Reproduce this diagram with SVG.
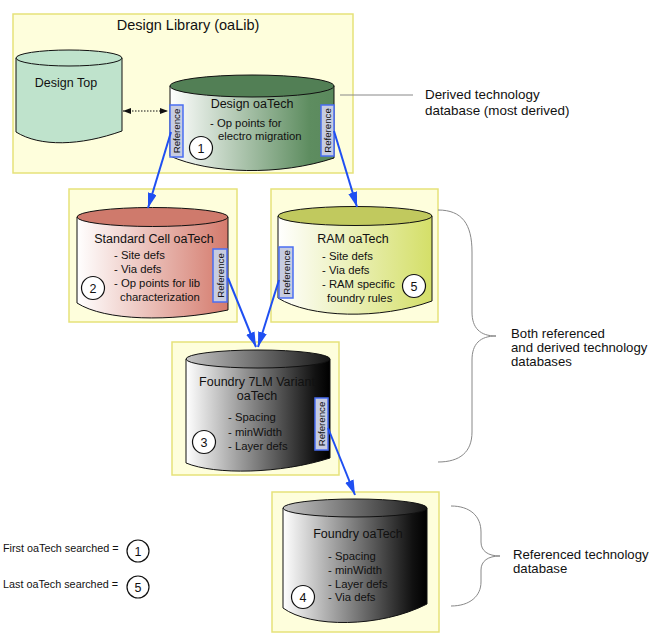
<svg xmlns="http://www.w3.org/2000/svg" width="663" height="639" viewBox="0 0 663 639">
<defs>
<style>
text{font-family:"Liberation Sans",Arial,sans-serif;fill:#111}
.ttl{font-size:12.5px;text-anchor:middle}
.itm{font-size:11.3px}
.big{font-size:14.5px;text-anchor:middle}
.note{font-size:13.4px}
.note2{font-size:13.2px}
.leg{font-size:10.8px}
.num{font-size:12.5px;text-anchor:middle}
.ref{font-size:9.7px;text-anchor:middle}
.box{fill:#fefedc;stroke:#e6e27a;stroke-width:1.5}
.cyl{stroke:#111;stroke-width:1}
.refbox{fill:#c7cce0;stroke:#4a6ef2;stroke-width:1.5}
.circ{fill:#fff;stroke:#111;stroke-width:1.2}
.blue{stroke:#1f4ff2;stroke-width:2;fill:none;marker-end:url(#ah)}
.gray{stroke:#888;stroke-width:1;fill:none}
</style>
<marker id="ah" markerUnits="userSpaceOnUse" markerWidth="16" markerHeight="10" refX="15" refY="4.5" orient="auto">
<path d="M0,0 L15,4.5 L0,9 Z" fill="#1f4ff2"/>
</marker>
<marker id="bk" markerUnits="userSpaceOnUse" markerWidth="8" markerHeight="6" refX="8" refY="3" orient="auto-start-reverse">
<path d="M0,0 L8,3 L0,6 Z" fill="#111"/>
</marker>
<linearGradient id="gGreen" x1="0" x2="1" y1="0" y2="0"><stop offset="0" stop-color="#ffffff"/><stop offset="0.85" stop-color="#5e8d60"/><stop offset="1" stop-color="#5a895c"/></linearGradient>
<linearGradient id="gRed" x1="0" x2="1" y1="0" y2="0"><stop offset="0" stop-color="#ffffff"/><stop offset="1" stop-color="#d47a6c"/></linearGradient>
<linearGradient id="gYel" x1="0" x2="1" y1="0" y2="0"><stop offset="0" stop-color="#ffffff"/><stop offset="1" stop-color="#d4df68"/></linearGradient>
<linearGradient id="gBlk" x1="0" x2="1" y1="0" y2="0"><stop offset="0" stop-color="#ffffff"/><stop offset="0.9" stop-color="#111"/><stop offset="1" stop-color="#000"/></linearGradient>
<linearGradient id="gBlkTop" x1="0" x2="1" y1="0" y2="0"><stop offset="0" stop-color="#c4c4c4"/><stop offset="1" stop-color="#151515"/></linearGradient>
</defs>

<g id="design-library">
<rect class="box" x="13" y="14" width="340" height="159"/>
<text class="big" x="188" y="30">Design Library (oaLib)</text>
</g>

<g id="design-top">
<path class="cyl" fill="#bfe3cc" d="M16,58 V132 C40,147 80,146 122,131 V58 Z"/>
<ellipse class="cyl" fill="#bfe3cc" cx="69" cy="58" rx="53" ry="8"/>
<text class="ttl" x="66" y="87">Design Top</text>
</g>

<g id="design-oatech">
<path class="cyl" fill="url(#gGreen)" d="M170,86 V156 C210,174 280,176 334,158 V86 Z"/>
<ellipse class="cyl" fill="#527f55" cx="252" cy="86" rx="82" ry="11"/>
<text class="ttl" x="252" y="108">Design oaTech</text>
<text class="itm" x="210" y="127">- Op points for</text>
<text class="itm" x="218" y="140">electro migration</text>
<circle class="circ" cx="201" cy="148" r="11.5"/>
<text class="num" x="201" y="152.5">1</text>
<rect class="refbox" x="170" y="105" width="13" height="52"/>
<text class="ref" transform="translate(180,131) rotate(-90)">Reference</text>
<rect class="refbox" x="321" y="105" width="13" height="51"/>
<text class="ref" transform="translate(331,130.5) rotate(-90)">Reference</text>
</g>

<g id="standard-cell">
<rect class="box" x="69" y="189" width="168" height="133"/>
<path class="cyl" fill="url(#gRed)" d="M77,217 V303 C105,321 170,322 228,310 V217 Z"/>
<ellipse class="cyl" fill="#cf7a6c" cx="152.5" cy="217" rx="75.5" ry="9.5"/>
<text class="ttl" x="154" y="243">Standard Cell oaTech</text>
<text class="itm" x="114" y="259">- Site defs</text>
<text class="itm" x="114" y="273">- Via defs</text>
<text class="itm" x="114" y="287">- Op points for lib</text>
<text class="itm" x="120" y="301">characterization</text>
<circle class="circ" cx="93" cy="288" r="11.5"/>
<text class="num" x="93" y="292.5">2</text>
<rect class="refbox" x="213" y="249" width="14" height="53"/>
<text class="ref" transform="translate(223.5,275.5) rotate(-90)">Reference</text>
</g>

<g id="ram">
<rect class="box" x="271" y="189" width="167" height="133"/>
<path class="cyl" fill="url(#gYel)" d="M278,216 V298 C310,318 380,320 432,301 V216 Z"/>
<ellipse class="cyl" fill="#c1c95e" cx="355" cy="216" rx="77" ry="9.5"/>
<text class="ttl" x="353" y="243">RAM oaTech</text>
<text class="itm" x="322" y="260">- Site defs</text>
<text class="itm" x="322" y="274">- Via defs</text>
<text class="itm" x="322" y="288">- RAM specific</text>
<text class="itm" x="327" y="302">foundry rules</text>
<circle class="circ" cx="414" cy="286" r="11.5"/>
<text class="num" x="414" y="290.5">5</text>
<rect class="refbox" x="279" y="247" width="14" height="51"/>
<text class="ref" transform="translate(289.5,272.5) rotate(-90)">Reference</text>
</g>

<g id="foundry-7lm">
<rect class="box" x="172" y="342" width="167" height="133"/>
<path class="cyl" fill="url(#gBlk)" d="M186,359 V463 C215,475 280,474 330,458 V359 Z"/>
<ellipse class="cyl" fill="url(#gBlkTop)" cx="258" cy="359" rx="72" ry="9"/>
<text class="ttl" x="257" y="386">Foundry 7LM Variant</text>
<text class="ttl" x="257" y="400">oaTech</text>
<text class="itm" x="228" y="421">- Spacing</text>
<text class="itm" x="228" y="436">- minWidth</text>
<text class="itm" x="228" y="450">- Layer defs</text>
<circle class="circ" cx="204" cy="442" r="11.5"/>
<text class="num" x="204" y="446.5">3</text>
<rect class="refbox" x="315" y="398" width="13" height="52"/>
<text class="ref" transform="translate(325,424) rotate(-90)">Reference</text>
</g>

<g id="foundry">
<rect class="box" x="272" y="492" width="167" height="140"/>
<path class="cyl" fill="url(#gBlk)" d="M283,508 V608 C310,628 380,628 427,604 V508 Z"/>
<ellipse class="cyl" fill="url(#gBlkTop)" cx="355" cy="508" rx="72" ry="9"/>
<text class="ttl" x="358" y="538">Foundry oaTech</text>
<text class="itm" x="328" y="560">- Spacing</text>
<text class="itm" x="328" y="574">- minWidth</text>
<text class="itm" x="328" y="588">- Layer defs</text>
<text class="itm" x="328" y="601">- Via defs</text>
<circle class="circ" cx="303" cy="597" r="11.5"/>
<text class="num" x="303" y="601.5">4</text>
</g>

<g id="connectors">
<line x1="123" y1="111" x2="168" y2="111" stroke="#111" stroke-width="1" stroke-dasharray="1.5,1.5" marker-start="url(#bk)" marker-end="url(#bk)"/>
<line class="blue" x1="171" y1="132" x2="148" y2="208"/>
<line class="blue" x1="334" y1="131" x2="357" y2="207"/>
<line class="blue" x1="228" y1="278" x2="256" y2="347"/>
<line class="blue" x1="279" y1="280" x2="258" y2="347"/>
<line class="blue" x1="328" y1="428" x2="355" y2="495"/>
<line class="gray" x1="340" y1="95" x2="413" y2="95"/>
<path class="gray" d="M438,210 C462,210 472,224 472,252 L472,312 C472,328 480,336 496,336 M496,336 C480,336 472,344 472,360 L472,432 C472,452 460,462 438,462"/>
<path class="gray" d="M451,506 C470,506 481,516 481,532 L481,542 C481,551 488,556 500,556 M500,556 C488,556 481,561 481,570 L481,582 C481,596 470,606 451,606"/>
</g>

<g id="annotations">
<text class="note" x="425" y="99">Derived technology</text>
<text class="note" x="425" y="115">database (most derived)</text>
<text class="note2" x="511" y="338">Both referenced</text>
<text class="note2" x="511" y="352">and derived technology</text>
<text class="note2" x="511" y="366">databases</text>
<text class="note2" x="513" y="559">Referenced technology</text>
<text class="note2" x="513" y="573">database</text>
</g>

<g id="legend">
<text class="leg" x="3" y="552">First oaTech searched =</text>
<circle class="circ" cx="138" cy="551" r="11"/>
<text class="num" x="138" y="555.5">1</text>
<text class="leg" x="3" y="588">Last oaTech searched =</text>
<circle class="circ" cx="138" cy="587" r="11"/>
<text class="num" x="138" y="591.5">5</text>
</g>
</svg>
